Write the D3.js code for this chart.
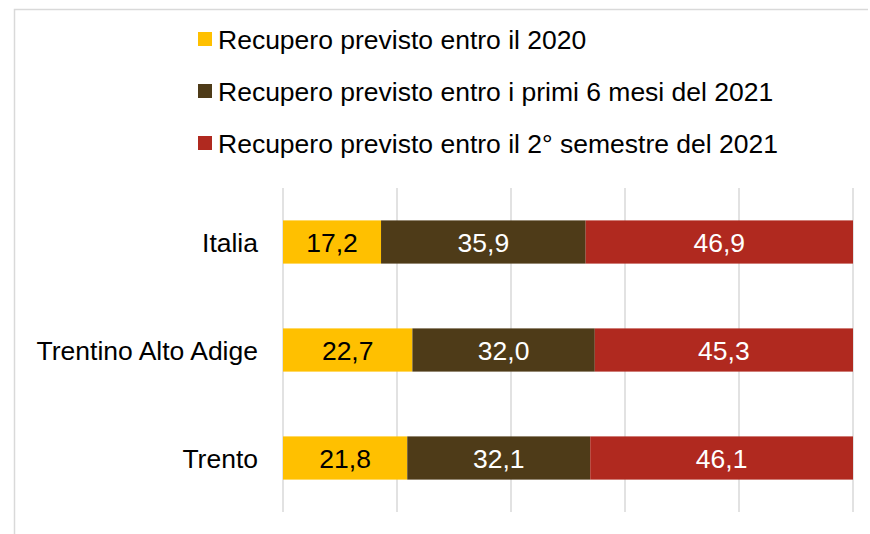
<!DOCTYPE html>
<html>
<head>
<meta charset="utf-8">
<script src="https://cdn.jsdelivr.net/npm/d3@7"></script>
<style>
  body { margin: 0; background: #fff; }
  svg text { font-family: "Liberation Sans", Arial, sans-serif; }
</style>
</head>
<body>
<div id="chart"></div>
<script>
// data
var categories = ["Italia", "Trentino Alto Adige", "Trento"];
var seriesNames = [
    "Recupero previsto entro il 2020",
    "Recupero previsto entro i primi 6 mesi del 2021",
    "Recupero previsto entro il 2° semestre del 2021"
];
var entro2020 = [17.2, 22.7, 21.8];
var primi2021 = [35.9, 32.0, 32.1];
var secondo2021 = [46.9, 45.3, 46.1];
var gridTicks = [0, 20, 40, 60, 80, 100];

var colors = ["#FFC000", "#4E3B18", "#B0291F"];
var labelColors = ["#000", "#fff", "#fff"];
var fontSize = "26.5px";

var w = 870, h = 534;
var svg = d3.select("#chart").append("svg")
    .attr("width", w)
    .attr("height", h);

// chart frame
svg.append("path")
    .attr("d", "M14.5,534 L14.5,9.5 L868,9.5")
    .style("fill", "none")
    .style("stroke", "#d9d9d9")
    .style("stroke-width", 1.5);

var xScale = d3.scaleLinear().domain([0, 100]).range([283, 853]);
var yScale = d3.scaleBand().domain(categories).range([188, 512]).paddingInner(0.6).paddingOuter(0.3);

// grid
svg.append("g")
    .attr("class", "grid")
    .selectAll("line")
    .data(gridTicks)
    .enter().append("line")
    .attr("x1", d => xScale(d))
    .attr("x2", d => xScale(d))
    .attr("y1", 188)
    .attr("y2", 512)
    .style("stroke", "#d9d9d9")
    .style("stroke-width", 1.5);

// stacked rows
var table = categories.map(function(c, i) {
    return { cat: c, s0: entro2020[i], s1: primi2021[i], s2: secondo2021[i] };
});
var stack = d3.stack().keys(["s0", "s1", "s2"]);
var layers = stack(table);

layers.forEach(function(layer, k) {
    var g = svg.append("g").attr("class", "series-" + k);
    g.selectAll("rect")
        .data(layer)
        .enter().append("rect")
        .attr("x", d => xScale(d[0]))
        .attr("y", d => yScale(d.data.cat))
        .attr("width", d => xScale(d[1]) - xScale(d[0]))
        .attr("height", yScale.bandwidth())
        .style("fill", colors[k]);

    g.selectAll("text")
        .data(layer)
        .enter().append("text")
        .attr("x", d => (xScale(d[0]) + xScale(d[1])) / 2)
        .attr("y", d => yScale(d.data.cat) + yScale.bandwidth() / 2)
        .attr("dy", "0.36em")
        .attr("text-anchor", "middle")
        .style("font-size", fontSize)
        .style("fill", labelColors[k])
        .text(d => (d[1] - d[0]).toFixed(1).replace(".", ","));
});

// category labels
svg.append("g")
    .selectAll("text")
    .data(categories)
    .enter().append("text")
    .attr("x", 258)
    .attr("y", d => yScale(d) + yScale.bandwidth() / 2)
    .attr("dy", "0.36em")
    .attr("text-anchor", "end")
    .style("font-size", fontSize)
    .style("fill", "#000")
    .text(d => d);

// legend
var legend = svg.append("g").attr("class", "legend");
var legendItem = legend.selectAll(".legend-item")
    .data(seriesNames)
    .enter().append("g")
    .attr("class", "legend-item")
    .attr("transform", (d, i) => `translate(198, ${32 + i * 52})`);

legendItem.append("rect")
    .attr("width", 14)
    .attr("height", 14)
    .style("fill", (d, i) => colors[i]);

legendItem.append("text")
    .attr("x", 20)
    .attr("y", 7)
    .attr("dy", "0.36em")
    .style("font-size", fontSize)
    .style("fill", "#000")
    .text(d => d);
</script>
</body>
</html>
